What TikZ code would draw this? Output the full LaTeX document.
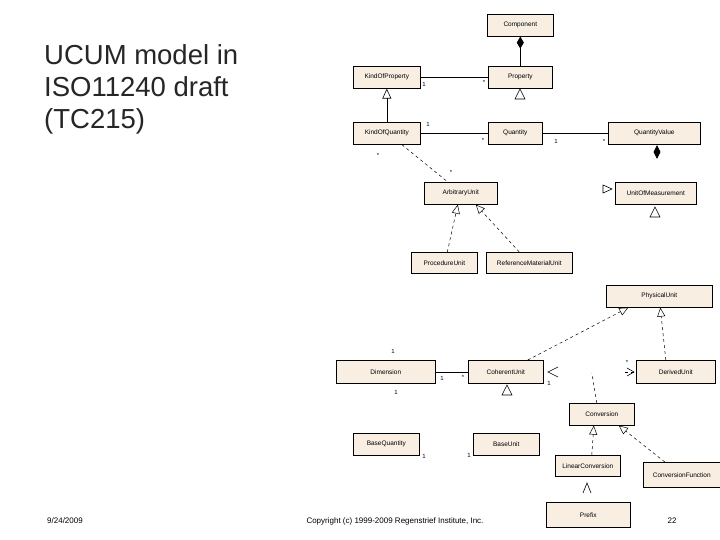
\documentclass[tikz,border=0pt]{standalone}
\usepackage{fontspec}
\setmainfont{Liberation Sans}
\usetikzlibrary{arrows.meta}
\definecolor{boxfill}{HTML}{F8EEE2}
\begin{document}
\begin{tikzpicture}[x=1pt,y=-1pt,
  box/.style={draw=black,line width=0.6pt,fill=boxfill,inner sep=0pt,font=\fontsize{6.5}{7}\selectfont,anchor=north west},
  lab/.style={font=\fontsize{6}{7}\selectfont,inner sep=0pt},
  gen/.style={dashed,line width=0.5pt,-{Triangle[open,length=9pt,width=8pt]}},
  sol/.style={line width=0.6pt},
  tri/.style={draw,line width=0.6pt,fill=white}]
\useasboundingbox (0,0) rectangle (720,540);
\fill[white] (0,0) rectangle (720,540);
% title
\node[anchor=north west,align=left,font=\fontsize{27.5}{32}\selectfont,text=black!85,inner sep=0pt] (title) at (44,44) {UCUM model in\\ISO11240 draft\\(TC215)};
\node[lab,font=\fontsize{8}{9}\selectfont] (date) at (65,521) {9/24/2009};
\node[lab,font=\fontsize{8}{9}\selectfont] (copy) at (395,521) {Copyright (c) 1999-2009 Regenstrief Institute, Inc.};
\node[lab,font=\fontsize{8}{9}\selectfont] (page) at (672,521) {22};
% boxes
\node[box,minimum width=66pt,minimum height=22pt] (comp) at (487,14) {Component};
\node[box,minimum width=64pt,minimum height=22pt] (prop) at (488,66) {Property};
\node[box,minimum width=67pt,minimum height=22pt] (kop) at (353,66) {KindOfProperty};
\node[box,minimum width=67pt,minimum height=22pt] (koq) at (353,122) {KindOfQuantity};
\node[box,minimum width=54pt,minimum height=22pt] (qty) at (488,122) {Quantity};
\node[box,minimum width=92pt,minimum height=22pt] (qv) at (608,122) {QuantityValue};
\node[box,minimum width=73pt,minimum height=22pt] (arb) at (424,182) {ArbitraryUnit};
\node[box,minimum width=81pt,minimum height=22pt] (uom) at (615,182) {UnitOfMeasurement};
\node[box,minimum width=66pt,minimum height=21pt] (proc) at (411,252) {ProcedureUnit};
\node[box,minimum width=86pt,minimum height=21pt] (ref) at (486,252) {ReferenceMaterialUnit};
\node[box,minimum width=106pt,minimum height=22pt] (phys) at (606,285) {PhysicalUnit};
\node[box,minimum width=99pt,minimum height=23pt] (dim) at (336,360) {Dimension};
\node[box,minimum width=75pt,minimum height=23pt] (coh) at (468,360) {CoherentUnit};
\node[box,minimum width=79pt,minimum height=23pt] (der) at (636,360) {DerivedUnit};
\node[box,minimum width=65pt,minimum height=22pt] (conv) at (569,403) {Conversion};
\node[box,minimum width=66pt,minimum height=22pt] (bq) at (353,433) {BaseQuantity};
\node[box,minimum width=66pt,minimum height=22pt] (bu) at (473,433) {BaseUnit};
\node[box,minimum width=65pt,minimum height=21pt] (lin) at (555,455) {LinearConversion};
\node[box,minimum width=77pt,minimum height=25pt] (cf) at (643,462) {ConversionFunction};
\node[box,minimum width=84pt,minimum height=25pt] (pre) at (546,502) {Prefix};
% associations
\draw[sol,-{Diamond[length=12pt,width=7pt]}] (prop.north) -- (comp.south);
\draw[sol] (kop.east) -- (prop.west);
\draw[sol] (koq.east) -- (qty.west);
\draw[sol] (qty.east) -- (qv.west);
\draw[sol] (dim.east) -- (coh.west);
\draw[sol,-{Triangle[open,length=10pt,width=9pt]}] (koq.north) -- (kop.south);
\draw[dashed,line width=0.5pt] (koq.south) ++(15,0) coordinate (k1) -- ([xshift=-13pt]arb.north) coordinate (a1);
\draw[gen] (proc.north) ++(3,0) coordinate (p1) -- ([xshift=-3pt]arb.south);
\draw[gen] (ref.north) ++(-10,0) coordinate (r1) -- ([xshift=15pt]arb.south);
\draw[gen] (coh.north) ++(22,0) coordinate (c1) -- ([xshift=-31pt]phys.south);
\draw[gen] (der.north) ++(-10,0) coordinate (d1) -- ([xshift=1pt]phys.south);
\draw[dashed,line width=0.5pt] (conv.north) ++(-5,0) coordinate (v1) -- ++(-5,-30) coordinate (v2);
\draw[gen] (lin.north) ++(4,0) coordinate (l1) -- ([xshift=-8pt]conv.south);
\draw[gen] (cf.north) ++(-17,0) coordinate (f1) -- ([xshift=17pt]conv.south);
% loose symbols
\draw[line width=0.7pt,fill=black] (657,146) -- (660,152) -- (657,158) -- (654,152) -- cycle;
\draw[tri] (520,89) -- (525,99) -- (515,99) -- cycle;
\draw[tri] (655,207) -- (660,217) -- (650,217) -- cycle;
\draw[tri] (507,385) -- (512,395) -- (502,395) -- cycle;
\draw[tri] (612,189) -- (603,185) -- (603,193) -- cycle;
\draw[line width=0.6pt] (558,367) -- (548,372) -- (558,377);
\draw[dashed,line width=0.5pt] (625,372) -- (634,372);
\draw[line width=0.6pt] (627,368) -- (634,372) -- (627,376);
\draw[line width=0.6pt] (583,493) -- (587,483) -- (591,493);
% multiplicities
\node[lab] (m1) at (424,84) {1};
\node[lab] (m2) at (484,82) {*};
\node[lab] (m3) at (428,124) {1};
\node[lab] (m4) at (483,140) {*};
\node[lab] (m5) at (556,141) {1};
\node[lab] (m6) at (604,141) {*};
\node[lab] (m7) at (378,155) {*};
\node[lab] (m8) at (451,172) {*};
\node[lab] (m9) at (393,351) {1};
\node[lab] (m10) at (396,392) {1};
\node[lab] (m11) at (442,378) {1};
\node[lab] (m12) at (463,377) {*};
\node[lab] (m13) at (549,383) {1};
\node[lab] (m14) at (627,362) {*};
\node[lab] (m15) at (424,456) {1};
\node[lab] (m16) at (469,455) {1};
\end{tikzpicture}
\end{document}
